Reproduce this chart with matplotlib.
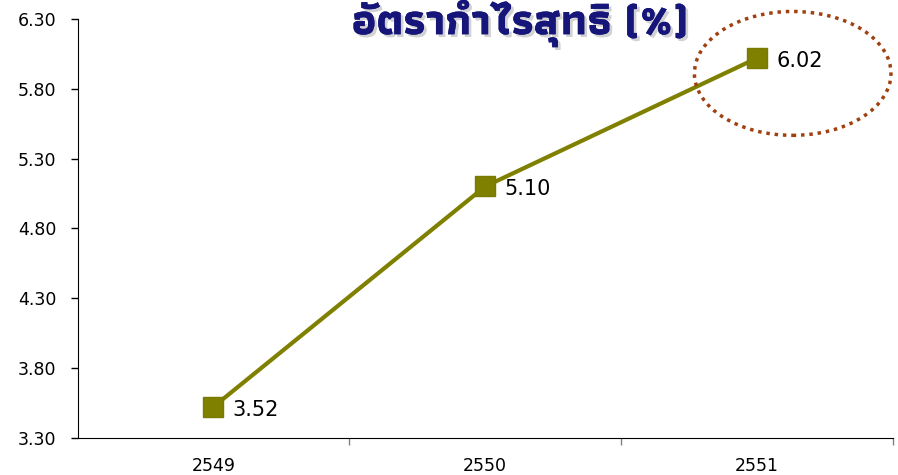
import matplotlib
matplotlib.use("Agg")
import matplotlib.pyplot as plt
import matplotlib.patheffects as pe
from matplotlib.patches import Ellipse
from matplotlib import font_manager
from matplotlib.ft2font import FT2Font

years = ["2549", "2550", "2551"]
margin = [3.52, 5.10, 6.02]
yticks = [3.30, 3.80, 4.30, 4.80, 5.30, 5.80, 6.30]
title = "อัตรากำไรสุทธิ (%)"


def find_thai_font():
    # look for any installed font that has Thai glyphs, bold if possible
    found = []
    for f in font_manager.fontManager.ttflist:
        try:
            cmap = FT2Font(f.fname).get_charmap()
        except Exception:
            continue
        if 0x0E2D in cmap and 0x0E33 in cmap:
            found.append(f)
    if not found:
        return None
    found.sort(key=lambda f: (0 if f.weight in ("bold", 700) else 1, f.name))
    return found[0]


thai = find_thai_font()

plt.rcParams['font.family'] = ['DejaVu Sans']
fig = plt.figure(figsize=(8.98, 4.75), dpi=100)
ax = fig.add_axes([77.5 / 898, 1 - 437.5 / 475, 815.5 / 898, 418.5 / 475])

x = list(range(len(years)))
ax.plot(x, margin, color='#808000', lw=3, marker='s', ms=14,
        mfc='#808000', mec='#7a7a00', zorder=3, clip_on=False)
for xi, v in zip(x, margin):
    ax.annotate("%.2f" % v, (xi, v), xytext=(14, -2), textcoords='offset points',
                fontsize=15, va='center', ha='left', color='black')

ax.set_xlim(-0.5, 2.5)
ax.set_ylim(3.30, 6.30)
ax.set_yticks(yticks)
ax.set_yticklabels(["%.2f" % t for t in yticks], fontsize=12.5)
ax.tick_params(axis='y', direction='out', length=5, width=1, pad=10)

ax.set_xticks(x)
ax.set_xticklabels(years, fontsize=12.5)
ax.tick_params(axis='x', which='major', length=0, pad=14)
ax.set_xticks([0.5, 1.5, 2.5], minor=True)
ax.tick_params(axis='x', which='minor', direction='out', length=5, width=1,
               color='#808080')

for s in ['top', 'right']:
    ax.spines[s].set_visible(False)

# dotted ellipse around the last value
ell = Ellipse((0.877, 0.870), 0.241, 0.296, transform=ax.transAxes,
              fill=False, edgecolor='#a0400f', lw=2.5,
              linestyle=(0, (1, 1.4)), clip_on=False, zorder=4)
ax.add_patch(ell)

fam = [thai.name, 'DejaVu Sans'] if thai else ['DejaVu Sans']
fig.text(0.579, 0.951, title, family=fam, fontsize=31, fontweight='bold',
         color='#16167a', ha='center', va='center',
         path_effects=[pe.withSimplePatchShadow(offset=(2, -2),
                                                shadow_rgbFace='#7f7f7f',
                                                alpha=0.35), pe.Normal()])

fig.savefig("out.png", dpi=100)
